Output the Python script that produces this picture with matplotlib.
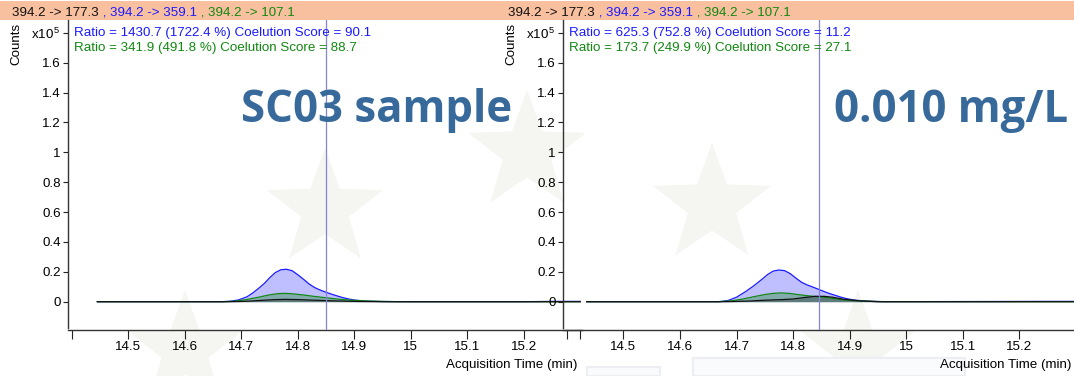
import matplotlib
matplotlib.use("Agg")
import matplotlib.pyplot as plt
from matplotlib.patches import Rectangle, Polygon
import numpy as np

plt.rcParams["font.family"] = ["Liberation Sans", "DejaVu Sans"]
plt.rcParams["mathtext.fontset"] = "custom"
plt.rcParams["mathtext.rm"] = "Liberation Sans"
plt.rcParams["mathtext.it"] = "Liberation Sans:italic"
plt.rcParams["mathtext.bf"] = "Liberation Sans:bold"

# ---------------------------------------------------------------- data
transitions = ["394.2 -> 177.3", "394.2 -> 359.1", "394.2 -> 107.1"]
quant_color = "#111111"
qual1_color = "#1a1aff"
qual2_color = "#118811"

# SC03 sample (x10^5 counts)
sc03_t_359 = [14.445, 14.665, 14.68, 14.695, 14.71, 14.72, 14.73, 14.74, 14.75, 14.76,
              14.77, 14.78, 14.79, 14.80, 14.81, 14.82, 14.83, 14.84, 14.85, 14.86,
              14.87, 14.88, 14.89, 14.90, 14.92, 14.95, 15.0, 15.2, 15.25, 15.3]
sc03_i_359 = [0, 0, 0.003, 0.012, 0.033, 0.058, 0.088, 0.12, 0.16, 0.195,
              0.214, 0.217, 0.207, 0.18, 0.15, 0.118, 0.094, 0.077, 0.063, 0.05,
              0.038, 0.027, 0.018, 0.011, 0.004, 0.001, 0, 0, 0.002, 0.002]
sc03_t_107 = [14.445, 14.67, 14.69, 14.71, 14.73, 14.75, 14.765, 14.777, 14.79, 14.81,
              14.83, 14.85, 14.87, 14.89, 14.92, 14.95, 14.98, 15.3]
sc03_i_107 = [0, 0, 0.004, 0.015, 0.03, 0.046, 0.054, 0.056, 0.053, 0.045,
              0.035, 0.026, 0.018, 0.011, 0.005, 0.002, 0, 0]
sc03_t_177 = [14.445, 14.68, 14.71, 14.74, 14.76, 14.777, 14.80, 14.83, 14.86, 14.9, 14.95, 15.3]
sc03_i_177 = [0, 0, 0.003, 0.01, 0.014, 0.0155, 0.014, 0.01, 0.006, 0.002, 0, 0]

# 0.010 mg/L standard (x10^5 counts)
std_t_359 = [14.435, 14.67, 14.685, 14.70, 14.715, 14.73, 14.745, 14.755, 14.765, 14.775,
             14.785, 14.795, 14.805, 14.815, 14.825, 14.835, 14.845, 14.855, 14.865, 14.875,
             14.885, 14.895, 14.91, 14.93, 14.96, 15.25, 15.3]
std_i_359 = [0, 0, 0.008, 0.03, 0.065, 0.105, 0.15, 0.182, 0.205, 0.212,
             0.208, 0.188, 0.158, 0.13, 0.112, 0.098, 0.083, 0.068, 0.054, 0.042,
             0.03, 0.02, 0.01, 0.004, 0, 0.002, 0.002]
std_t_107 = [14.435, 14.665, 14.69, 14.71, 14.73, 14.75, 14.765, 14.78, 14.795, 14.81,
             14.83, 14.85, 14.87, 14.89, 14.92, 14.95, 14.98, 15.3]
std_i_107 = [0, 0, 0.005, 0.017, 0.033, 0.048, 0.056, 0.059, 0.055, 0.047,
             0.038, 0.032, 0.022, 0.012, 0.005, 0.001, 0, 0]
std_t_177 = [14.435, 14.68, 14.72, 14.75, 14.78, 14.80, 14.82, 14.84, 14.855, 14.87,
             14.89, 14.92, 14.95, 15.3]
std_i_177 = [0, 0, 0.004, 0.01, 0.014, 0.018, 0.028, 0.036, 0.036, 0.03,
             0.016, 0.005, 0, 0]

marker_time = [14.849, 14.845]
panel_names = ["SC03 sample", "0.010 mg/L"]
ratio_359 = ["Ratio = 1430.7 (1722.4 %) Coelution Score = 90.1",
             "Ratio = 625.3 (752.8 %) Coelution Score = 11.2"]
ratio_107 = ["Ratio = 341.9 (491.8 %) Coelution Score = 88.7",
             "Ratio = 173.7 (249.9 %) Coelution Score = 27.1"]

x_ticks = [14.4, 14.5, 14.6, 14.7, 14.8, 14.9, 15.0, 15.1, 15.2, 15.3]
x_tick_labels = ["", "14.5", "14.6", "14.7", "14.8", "14.9", "15", "15.1", "15.2", ""]
y_ticks = [0, 0.2, 0.4, 0.6, 0.8, 1.0, 1.2, 1.4, 1.6, 1.8]
y_tick_labels = ["0", "0.2", "0.4", "0.6", "0.8", "1", "1.2", "1.4", "1.6", r"x10$^{\,5}$"]

# ---------------------------------------------------------------- figure
W, H = 1074, 376
fig = plt.figure(figsize=(W / 100, H / 100), dpi=100)


def fx(px):
    return px / W


def fy(py):
    return 1 - py / H


# faint background stars and boxes
def star(cx, cy, r, color):
    pts = []
    for k in range(10):
        ang = np.pi / 2 + k * np.pi / 5
        rr = r if k % 2 == 0 else r * 0.41
        pts.append((fx(cx + rr * np.cos(ang)), fy(cy - rr * np.sin(ang))))
    fig.patches.append(Polygon(pts, closed=True, transform=fig.transFigure,
                               facecolor=color, edgecolor="none", zorder=-10))


for cx, cy, r in [(325, 209, 61), (712, 205, 62), (527, 152, 62), (185, 350, 60), (858, 350, 60)]:
    star(cx, cy, r, "#f5f6f1")

for x0, y0, x1 in [(587, 367, 660), (693, 358, 965)]:
    fig.patches.append(Rectangle((fx(x0), 0), fx(x1) - fx(x0), fy(y0), transform=fig.transFigure,
                                 facecolor="#fafbfc", edgecolor="#eceef3", lw=1.5, zorder=-9))

# title strip
fig.patches.append(Rectangle((0, fy(19.5)), 1, fy(1) - fy(19.5), transform=fig.transFigure,
                             facecolor="#f9c0a0", edgecolor="none", zorder=-5))

ax_bottom = fy(330)
ax_height = fy(20) - ax_bottom
axes = [fig.add_axes([fx(68), ax_bottom, fx(582) - fx(68), ax_height]),
        fig.add_axes([fx(563), ax_bottom, fx(1074) - fx(563), ax_height])]
xlims = [(14.393, 15.303), (14.393, 15.297)]

# (times, intensities, colour, fill alpha) in drawing order
panels = [
    [(sc03_t_359, sc03_i_359, qual1_color, 0.28),
     (sc03_t_107, sc03_i_107, qual2_color, 0.35),
     (sc03_t_177, sc03_i_177, quant_color, 0.30)],
    [(std_t_359, std_i_359, qual1_color, 0.28),
     (std_t_107, std_i_107, qual2_color, 0.35),
     (std_t_177, std_i_177, quant_color, 0.30)],
]

FS = 9.6
for i, ax in enumerate(axes):
    ax.set_facecolor("none")
    for j, (t, v, col, a) in enumerate(panels[i]):
        ax.fill_between(t, v, 0, color=col, alpha=a, lw=0, zorder=2 + j)
        ax.plot(t, v, color=col, lw=0.9, zorder=5 + j)
    ax.axvline(marker_time[i], color="#8484dc", lw=0.9, zorder=8)
    ax.set_xlim(*xlims[i])
    ax.set_ylim(-0.1894, 1.8855)
    ax.spines["top"].set_visible(False)
    ax.spines["right"].set_visible(False)
    for s in ("left", "bottom"):
        ax.spines[s].set_color("#333333")
        ax.spines[s].set_linewidth(1.0)
    ax.spines["left"].set_bounds(-0.176, 1.8855)
    ticks = x_ticks if i == 0 else x_ticks[:-1]
    labels = x_tick_labels if i == 0 else x_tick_labels[:-1]
    ax.set_xticks(ticks)
    ax.set_xticklabels(labels)
    ax.set_yticks(y_ticks)
    ax.set_yticklabels(y_tick_labels)
    ax.tick_params(axis="x", direction="out", length=6.5, width=0.8, color="#222222",
                   labelsize=FS, pad=1.5)
    ax.tick_params(axis="y", direction="out", length=3.8, width=0.8, color="#222222",
                   labelsize=FS, pad=1.5)

axes[1].set_zorder(3)
axes[0].set_zorder(2)

# axis captions
for cx in (16, 511):
    fig.text(fx(cx), fy(44), "Counts", rotation=90, ha="center", va="center", fontsize=FS)
for rx in (577, 1072):
    fig.text(fx(rx), fy(368), "Acquisition Time (min)", ha="right", va="baseline", fontsize=FS)

# coelution ratios
for i, x0 in enumerate((74, 569)):
    fig.text(fx(x0), fy(36), ratio_359[i], color=qual1_color, ha="left", va="baseline", fontsize=FS)
    fig.text(fx(x0), fy(51.5), ratio_107[i], color=qual2_color, ha="left", va="baseline", fontsize=FS)

# panel captions
for rx, label in zip((512, 1068), panel_names):
    fig.text(fx(rx), fy(122), label, ha="right", va="baseline", fontsize=31.5,
             family="Open Sans", fontweight="bold", color="#376a9b", zorder=10)

# transition legend in the strip, drawn piece by piece
renderer = fig.canvas.get_renderer()
for x0 in (12, 508):
    x = x0
    pieces = [(transitions[0], quant_color), (" , ", qual1_color),
              (transitions[1], qual1_color), (" , ", qual2_color),
              (transitions[2], qual2_color)]
    for txt, col in pieces:
        t = fig.text(fx(x), fy(16.5), txt, color=col, ha="left", va="baseline", fontsize=FS)
        x += t.get_window_extent(renderer).width

fig.savefig("out.png", dpi=100)
